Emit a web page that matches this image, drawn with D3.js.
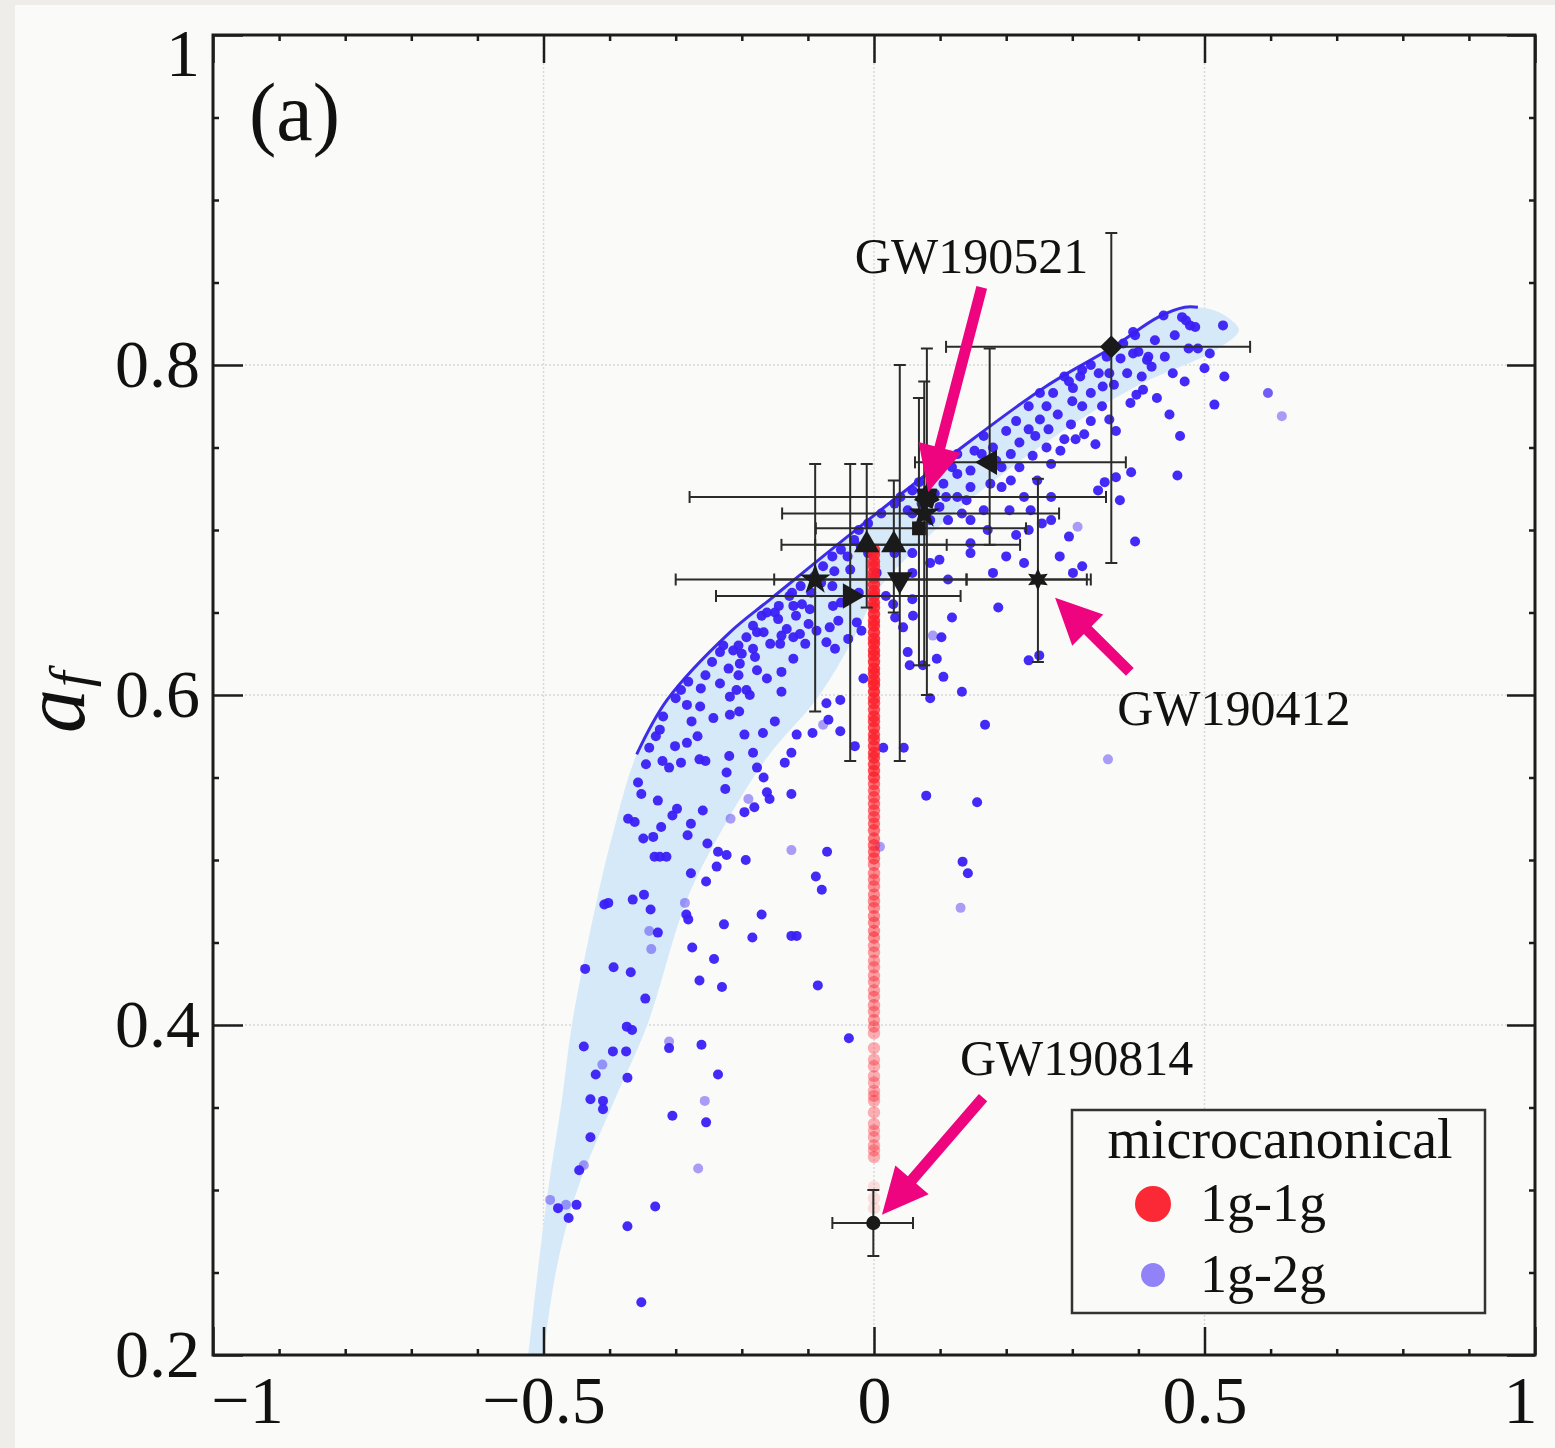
<!DOCTYPE html>
<html>
<head>
<meta charset="utf-8">
<script src="https://cdn.jsdelivr.net/npm/d3@7"></script>
<style>
  body { margin: 0; background: #eeede9; }
  svg { display: block; }
  text { font-family: "Liberation Serif", "DejaVu Serif", serif; fill: #111; }
</style>
</head>
<body>
<svg id="chart" width="1555" height="1448"></svg>
<script>
//--------DATA--------

const xTicks = [-1, -0.5, 0, 0.5, 1];
const xTickLabels = ['\u22121', '\u22120.5', '0', '0.5', '1'];
const yTicks = [0.2, 0.4, 0.6, 0.8, 1];
const yTickLabels = ['0.2', '0.4', '0.6', '0.8', '1'];
const xGrid = [-0.5, 0, 0.5];
const yGrid = [0.4, 0.6, 0.8];

// shaded band (upper edge, rounded end, lower edge)
const bandUpper = [[-0.526,0.190],[-0.523,0.200],[-0.508,0.253],[-0.493,0.300],[-0.472,0.355],[-0.457,0.400],
  [-0.419,0.476],[-0.395,0.516],[-0.359,0.564],[-0.313,0.597],[-0.218,0.638],[-0.157,0.658],[-0.009,0.706],
  [0.126,0.748],[0.260,0.787],[0.362,0.811],[0.430,0.829],[0.470,0.835],[0.490,0.835]];
const bandEnd = [[0.515,0.833],[0.538,0.828]];
const bandLower = [[0.552,0.821],[0.517,0.809],[0.396,0.787],[0.260,0.753],[0.126,0.712],[0.057,0.686],
  [0.007,0.664],[-0.030,0.635],[-0.086,0.598],[-0.162,0.562],[-0.233,0.516],[-0.283,0.476],[-0.343,0.400],
  [-0.392,0.355],[-0.449,0.300],[-0.480,0.253],[-0.500,0.200],[-0.503,0.190]];
const edgeStart = 0.564; // blue edge line drawn from here upward

// 1g-2g points: [chi_eff, a_f, weight]
const secondGen = [
  [-0.162,0.650,1],[-0.145,0.646,1],[-0.122,0.654,1],[-0.109,0.655,1],[-0.062,0.654,1],[-0.026,0.644,1],
  [-0.019,0.639,1],[-0.039,0.634,1],[-0.054,0.645,1],[-0.067,0.641,1],[-0.099,0.643,1],[-0.087,0.639,1],
  [-0.122,0.635,1],[-0.112,0.637,1],[-0.104,0.631,1],[-0.140,0.636,1],[-0.157,0.631,1],[-0.142,0.631,1],
  [-0.132,0.640,1],[-0.183,0.642,1],[-0.177,0.638,1],[-0.167,0.638,1],[-0.193,0.635,1],[-0.205,0.630,1],
  [-0.200,0.625,1],[-0.213,0.627,1],[-0.233,0.626,1],[-0.183,0.628,1],[-0.180,0.623,1],[-0.203,0.619,1],
  [-0.177,0.615,1],[-0.162,0.610,1],[-0.140,0.614,1],[-0.122,0.622,1],[-0.220,0.616,1],[-0.205,0.612,1],
  [-0.233,0.607,1],[-0.281,0.608,1],[-0.208,0.603,1],[-0.193,0.603,1],[-0.188,0.600,1],[-0.218,0.599,1],
  [-0.140,0.602,1],[-0.016,0.610,1],[-0.072,0.632,1],[-0.059,0.628,1],
  [0.032,0.647,1],[0.044,0.641,1],[0.051,0.626,1],[0.054,0.618,1],[0.074,0.618,1],[0.102,0.635,1],
  [0.118,0.647,1],[0.105,0.611,1],[0.095,0.622,1],[0.089,0.636,0.45],[0.059,0.648,1],[0.188,0.653,1],
  [0.029,0.655,1],[0.014,0.568,1],[0.045,0.568,1],[0.085,0.598,1],[0.133,0.602,1],[0.168,0.582,1],
  [0.079,0.539,1],[0.156,0.535,1],[0.134,0.499,1],[0.142,0.492,1],[0.131,0.471,0.45],[0.009,0.508,0.45],
  [0.234,0.621,1],[0.250,0.624,1],[0.354,0.561,0.45],
  [-0.283,0.594,1],[-0.263,0.593,1],[-0.319,0.587,1],[-0.324,0.579,1],[-0.243,0.586,1],[-0.218,0.588,1],
  [-0.204,0.590,1],[-0.276,0.584,1],[-0.150,0.584,1],[-0.196,0.576,1],[-0.168,0.577,1],[-0.267,0.575,1],
  [-0.283,0.571,1],[-0.301,0.569,1],[-0.117,0.576,1],[-0.093,0.577,1],[-0.072,0.595,1],[-0.051,0.597,1],
  [-0.069,0.585,1],[-0.077,0.582,0.45],[-0.051,0.578,1],[-0.029,0.569,1],[-0.357,0.547,1],[-0.310,0.556,1],
  [-0.292,0.559,1],[-0.264,0.561,1],[-0.255,0.560,1],[-0.219,0.563,1],[-0.183,0.565,1],[-0.177,0.556,1],
  [-0.167,0.550,1],[-0.125,0.565,1],[-0.135,0.559,1],[-0.223,0.553,1],[-0.225,0.543,1],[-0.162,0.541,1],
  [-0.158,0.537,1],[-0.190,0.537,0.45],[-0.125,0.540,1],[-0.327,0.536,1],[-0.298,0.531,1],[-0.305,0.527,1],
  [-0.259,0.530,1],[-0.277,0.522,1],[-0.322,0.520,1],[-0.372,0.525,1],[-0.362,0.523,1],[-0.349,0.513,1],
  [-0.334,0.514,1],[-0.282,0.515,1],[-0.252,0.510,1],[-0.236,0.505,1],[-0.223,0.503,1],[-0.217,0.525,0.45],
  [-0.196,0.529,1],[-0.181,0.532,1],[-0.332,0.502,1],[-0.324,0.502,1],[-0.314,0.502,1],[-0.277,0.492,1],
  [-0.254,0.487,1],[-0.238,0.496,1],[-0.194,0.500,1],[-0.125,0.506,0.45],[-0.071,0.505,1],[-0.088,0.490,1],
  [-0.079,0.482,1],[-0.348,0.479,1],[-0.365,0.476,1],[-0.338,0.470,1],[-0.408,0.473,1],[-0.402,0.474,1],
  [-0.286,0.474,0.45],[-0.284,0.467,1],[-0.281,0.464,1],[-0.340,0.457,0.45],[-0.327,0.456,1],[-0.337,0.446,0.45],
  [-0.227,0.461,1],[-0.170,0.467,1],[-0.184,0.453,1],[-0.125,0.454,1],[-0.117,0.454,1],[-0.275,0.447,1],
  [-0.242,0.440,1],[-0.264,0.427,1],[-0.230,0.423,1],[-0.085,0.424,1],[-0.437,0.434,1],[-0.394,0.435,1],
  [-0.368,0.432,1],[-0.346,0.416,1],[-0.374,0.399,1],[-0.366,0.397,1],[-0.038,0.392,1],[-0.439,0.387,1],
  [-0.395,0.384,1],[-0.375,0.384,1],[-0.310,0.390,0.45],[-0.310,0.386,1],[-0.261,0.388,1],[-0.411,0.376,0.45],
  [-0.421,0.370,1],[-0.373,0.368,1],[-0.236,0.370,1],[-0.429,0.355,1],[-0.410,0.354,1],[-0.410,0.349,1],
  [-0.256,0.354,0.45],[-0.305,0.345,1],[-0.254,0.341,1],[-0.429,0.332,1],[-0.439,0.315,0.45],[-0.446,0.312,1],
  [-0.266,0.313,0.45],[-0.490,0.294,0.45],[-0.478,0.289,1],[-0.466,0.291,0.45],[-0.450,0.291,1],[-0.462,0.283,1],
  [-0.331,0.290,1],[-0.373,0.278,1],[-0.352,0.232,1],
  [0.438,0.830,1],[0.466,0.829,1],[0.472,0.827,1],[0.478,0.824,1],[0.486,0.823,1],[0.528,0.824,1],
  [0.392,0.820,1],[0.395,0.818,1],[0.377,0.813,1],[0.476,0.810,1],[0.508,0.807,1],[0.392,0.807,1],
  [0.373,0.804,1],[0.415,0.805,1],[0.413,0.803,1],[0.420,0.799,1],[0.352,0.805,1],[0.405,0.793,1],
  [0.530,0.793,1],[0.407,0.785,1],[0.397,0.782,1],[0.428,0.780,1],[0.388,0.777,1],[0.346,0.787,1],
  [0.363,0.788,1],[0.596,0.783,0.75],[0.515,0.776,1],[0.617,0.769,0.45],[0.447,0.770,1],[0.356,0.767,1],
  [0.366,0.760,1],[0.463,0.757,1],[0.389,0.735,1],[0.459,0.733,1],[0.366,0.732,1],[0.349,0.729,1],
  [0.372,0.718,1],[0.395,0.693,1],[0.339,0.724,1],
  [0.288,0.793,1],[0.315,0.797,1],[0.328,0.800,1],[0.312,0.793,1],[0.295,0.790,1],[0.301,0.786,1],
  [0.328,0.783,1],[0.271,0.783,1],[0.315,0.775,1],[0.328,0.766,1],[0.298,0.764,1],[0.305,0.755,1],
  [0.288,0.755,1],[0.251,0.783,1],[0.234,0.775,1],[0.261,0.775,1],[0.251,0.767,1],[0.264,0.761,1],
  [0.244,0.757,1],[0.261,0.750,1],[0.268,0.740,1],[0.234,0.761,1],[0.220,0.753,1],[0.207,0.746,1],
  [0.220,0.738,1],[0.193,0.738,1],[0.180,0.750,1],[0.166,0.757,1],[0.163,0.746,1],[0.146,0.736,1],
  [0.126,0.746,1],[0.146,0.726,1],[0.126,0.734,1],[0.105,0.728,1],[0.092,0.722,1],[0.068,0.729,1],
  [0.058,0.724,1],[0.099,0.714,1],[0.085,0.706,1],[0.072,0.716,1],[0.058,0.710,1],[0.051,0.712,1],
  [0.109,0.720,1],[0.126,0.720,1],[0.133,0.710,1],[0.146,0.706,1],[0.166,0.712,1],[0.193,0.726,1],
  [0.207,0.730,1],[0.247,0.730,1],[0.227,0.720,1],[0.237,0.712,1],[0.268,0.720,1],[0.234,0.700,1],
  [0.254,0.704,1],[0.295,0.696,1],[0.301,0.674,1],[0.315,0.678,1],[0.308,0.702,0.45],[0.281,0.684,1],
  [0.268,0.706,1],[0.227,0.680,1],[0.200,0.684,1],[0.180,0.674,1],[0.146,0.692,1],[0.146,0.686,1],
  [0.112,0.670,1],[0.099,0.682,1],[0.085,0.680,1],[0.058,0.686,1],[0.058,0.674,1],[0.058,0.658,1],
  [0.031,0.686,1],[0.040,0.720,1],[0.031,0.716,1],[0.011,0.710,1],[-0.009,0.704,1],[-0.023,0.700,1],
  [-0.030,0.694,1],[-0.050,0.688,1],[-0.063,0.684,1],[-0.077,0.678,1],[-0.090,0.672,1],[-0.111,0.666,1],
  [-0.124,0.662,1],[-0.144,0.654,1],[-0.009,0.686,1],[-0.036,0.676,1],[-0.063,0.666,1],[0.004,0.674,1],
  [0.018,0.660,1],[-0.050,0.656,1],[-0.023,0.662,1],[-0.097,0.652,1],
  [0.200,0.760,1],[0.185,0.742,1],[0.215,0.766,1],[0.240,0.745,1],[0.278,0.770,1],[0.282,0.748,1],
  [0.300,0.778,1],[0.318,0.758,1],[0.340,0.795,1],[0.345,0.775,1],[0.335,0.752,1],[0.356,0.795,1],
  [0.383,0.795,1],[0.400,0.808,1],[0.425,0.815,1],[0.440,0.805,1],[0.455,0.818,1],[0.452,0.795,1],
  [0.470,0.790,1],[0.490,0.810,1],[0.500,0.798,1],[0.152,0.748,1],[0.140,0.718,1],[0.118,0.738,1],
  [0.090,0.735,1],[0.112,0.706,1],[0.176,0.728,1],[0.172,0.700,1],[0.205,0.712,1],[0.215,0.697,1],
  [-0.300,0.598,1],[-0.292,0.603,1],[-0.255,0.612,1],[-0.245,0.620,1],[-0.262,0.604,1],[-0.228,0.630,1],
  [-0.170,0.648,1],[-0.150,0.650,1],[-0.128,0.660,1],[-0.118,0.648,1],[-0.095,0.662,1],[-0.080,0.668,1],
  [-0.060,0.675,1],[-0.040,0.684,1],[-0.020,0.690,1],[-0.340,0.568,1],[-0.330,0.575,1],[-0.345,0.558,1],
  [-0.352,0.540,1],[-0.320,0.560,1]
];

// 1g-1g points (chi_eff = 0): [a_f, weight]
const firstGen = [
  [0.688,0.85],[0.685,0.85],[0.681,0.85],[0.678,0.85],[0.674,0.85],[0.671,0.85],[0.667,0.85],[0.663,0.85],
  [0.660,0.85],[0.656,0.85],[0.653,0.85],[0.649,0.85],[0.645,0.85],[0.642,0.85],[0.638,0.85],[0.634,0.85],
  [0.631,0.85],[0.627,0.85],[0.624,0.85],[0.620,0.85],[0.616,0.85],[0.613,0.85],[0.609,0.85],[0.606,0.85],
  [0.602,0.85],[0.598,0.75],[0.595,0.75],[0.591,0.75],[0.587,0.75],[0.584,0.75],[0.580,0.75],[0.576,0.75],
  [0.573,0.75],[0.569,0.75],[0.565,0.75],[0.562,0.75],[0.558,0.75],[0.554,0.75],[0.550,0.75],
  [0.546,0.62],[0.542,0.62],[0.538,0.62],[0.534,0.62],[0.530,0.62],[0.526,0.62],[0.522,0.62],[0.518,0.62],
  [0.513,0.62],[0.509,0.62],[0.505,0.62],[0.501,0.62],
  [0.497,0.5],[0.492,0.5],[0.488,0.5],[0.484,0.5],[0.479,0.5],[0.475,0.5],[0.471,0.5],[0.466,0.5],
  [0.462,0.5],[0.457,0.5],[0.453,0.5],
  [0.448,0.42],[0.444,0.42],[0.439,0.42],[0.435,0.42],[0.430,0.42],[0.426,0.42],[0.421,0.42],[0.417,0.42],
  [0.412,0.42],[0.408,0.42],[0.403,0.42],[0.399,0.42],
  [0.395,0.35],[0.386,0.35],[0.379,0.35],[0.375,0.35],[0.369,0.35],[0.365,0.35],[0.360,0.35],[0.357,0.35],
  [0.354,0.35],[0.347,0.35],[0.340,0.35],[0.336,0.35],[0.332,0.35],[0.327,0.35],[0.324,0.35],[0.320,0.35],
  [0.302,0.13],[0.295,0.13],[0.289,0.13]
];

// observed events with 90% intervals
const events = [
  {name:'e1', shape:'diamond',  x:0.359,  y:0.811, xlo:0.109,  xhi:0.569, ylo:0.680, yhi:0.880},
  {name:'e2', shape:'triLeft',  x:0.175,  y:0.741, xlo:0.062,  xhi:0.381, ylo:0.691, yhi:0.810},
  {name:'GW190521', shape:'hepta', x:0.080, y:0.720, xlo:-0.279, xhi:0.351, ylo:0.600, yhi:0.810},
  {name:'e4', shape:'star5',    x:0.076,  y:0.710, xlo:-0.139, xhi:0.280, ylo:0.618, yhi:0.790},
  {name:'e5', shape:'square',   x:0.068,  y:0.701, xlo:-0.088, xhi:0.230, ylo:0.618, yhi:0.780},
  {name:'e6', shape:'triUp',    x:-0.011, y:0.691, xlo:-0.140, xhi:0.110, ylo:0.653, yhi:0.740},
  {name:'e7', shape:'triUp',    x:0.030,  y:0.691, xlo:-0.089, xhi:0.221, ylo:0.650, yhi:0.730},
  {name:'e8', shape:'star5',    x:-0.089, y:0.670, xlo:-0.300, xhi:0.140, ylo:0.590, yhi:0.740},
  {name:'e9', shape:'triDown',  x:0.039,  y:0.670, xlo:-0.151, xhi:0.328, ylo:0.560, yhi:0.800},
  {name:'GW190412', shape:'star6', x:0.248, y:0.670, xlo:0.140, xhi:0.322, ylo:0.620, yhi:0.731},
  {name:'e11', shape:'triRight', x:-0.036, y:0.660, xlo:-0.239, xhi:0.131, ylo:0.560, yhi:0.740},
  {name:'GW190814', shape:'circle', x:-0.001, y:0.280, xlo:-0.063, xhi:0.059, ylo:0.260, yhi:0.300}
];

const callouts = [
  {label:'GW190521', tx:-0.029, ty:0.856, from:[0.163,0.847], to:[0.082,0.723]},
  {label:'GW190412', tx:0.368,  ty:0.582, from:[0.387,0.614], to:[0.274,0.659]},
  {label:'GW190814', tx:0.130,  ty:0.370, from:[0.165,0.356], to:[0.012,0.285]}
];

const legendTitle = 'microcanonical';
const seriesNames = ['1g-1g', '1g-2g'];

//--------SETUP--------

const svg = d3.select('#chart');
const x = d3.scaleLinear().domain([-1, 1]).range([213, 1535]);
const y = d3.scaleLinear().domain([0.2, 1]).range([1355, 35]);
const ink = '#1c1c1c';

svg.append('rect')
    .attr('x', 15).attr('y', 5)
    .attr('width', 1540).attr('height', 1443)
    .attr('fill', '#fafaf9');

svg.append('clipPath').attr('id', 'plotClip')
    .append('rect')
    .attr('x', x(-1)).attr('y', y(1))
    .attr('width', x(1) - x(-1)).attr('height', y(0.2) - y(1));

//grid
let grid = svg.append('g')
    .attr('stroke', '#d9d9d9')
    .attr('stroke-width', 1.5)
    .attr('stroke-dasharray', '2,2');

grid.selectAll('line.gx').data(xGrid).join('line')
    .attr('class', 'gx')
    .attr('x1', d => x(d)).attr('x2', d => x(d))
    .attr('y1', y(1)).attr('y2', y(0.2));

grid.selectAll('line.gy').data(yGrid).join('line')
    .attr('class', 'gy')
    .attr('x1', x(-1)).attr('x2', x(1))
    .attr('y1', d => y(d)).attr('y2', d => y(d));

let plot = svg.append('g').attr('clip-path', 'url(#plotClip)');

//band + edge line
let curve = d3.line()
    .x(d => x(d[0]))
    .y(d => y(d[1]))
    .curve(d3.curveCatmullRom.alpha(0.5));

plot.append('path')
    .attr('d', curve(bandUpper.concat(bandEnd, bandLower)) + 'Z')
    .attr('fill', '#d5e9f9');

plot.append('path')
    .attr('d', curve(bandUpper.filter(d => d[1] >= edgeStart)))
    .attr('fill', 'none')
    .attr('stroke', '#3d2ce8')
    .attr('stroke-width', 3);

//scatter
let alpha = d3.scaleLinear().domain([0, 1]).range([0, 0.95]);

plot.selectAll('circle.g2').data(secondGen).join('circle')
    .attr('class', 'g2')
    .attr('cx', d => x(d[0]))
    .attr('cy', d => y(d[1]))
    .attr('r', 5)
    .attr('fill', '#3a1ff6')
    .attr('fill-opacity', d => alpha(d[2]));

plot.selectAll('circle.g1').data(firstGen).join('circle')
    .attr('class', 'g1')
    .attr('cx', x(0))
    .attr('cy', d => y(d[0]))
    .attr('r', 6.2)
    .attr('fill', '#fb1e2a')
    .attr('fill-opacity', d => d[1]);

//error bars
function starType(n, inner){
    return {
        draw(ctx, size){
            let r = Math.sqrt(size / Math.PI) * 1.3;
            for(let i = 0; i < 2 * n; i++){
                let a = Math.PI * i / n - Math.PI / 2;
                let rr = i % 2 ? r * inner : r;
                if(i === 0) ctx.moveTo(rr * Math.cos(a), rr * Math.sin(a));
                else ctx.lineTo(rr * Math.cos(a), rr * Math.sin(a));
            }
            ctx.closePath();
        }
    };
}

const shapes = {
    diamond:  {type: d3.symbolSquare, size: 260, rot: 45},
    square:   {type: d3.symbolSquare, size: 190, rot: 0},
    triUp:    {type: d3.symbolTriangle, size: 280, rot: 0},
    triDown:  {type: d3.symbolTriangle, size: 280, rot: 180},
    triLeft:  {type: d3.symbolTriangle, size: 280, rot: -90},
    triRight: {type: d3.symbolTriangle, size: 280, rot: 90},
    star5:    {type: d3.symbolStar, size: 300, rot: 0},
    star6:    {type: starType(6, 0.5), size: 240, rot: 0},
    hepta:    {type: starType(7, 0.72), size: 320, rot: 0},
    circle:   {type: d3.symbolCircle, size: 160, rot: 0}
};

let cap = 6;
let bars = svg.append('g')
    .attr('stroke', '#2b2b2b')
    .attr('stroke-width', 2);

events.forEach(ev => {
    let g = bars.append('g');
    g.append('line')
        .attr('x1', x(ev.xlo)).attr('x2', x(ev.xhi))
        .attr('y1', y(ev.y)).attr('y2', y(ev.y));
    g.append('line')
        .attr('x1', x(ev.x)).attr('x2', x(ev.x))
        .attr('y1', y(ev.ylo)).attr('y2', y(ev.yhi));
    [ev.xlo, ev.xhi].forEach(v => g.append('line')
        .attr('x1', x(v)).attr('x2', x(v))
        .attr('y1', y(ev.y) - cap).attr('y2', y(ev.y) + cap));
    [ev.ylo, ev.yhi].forEach(v => g.append('line')
        .attr('x1', x(ev.x) - cap).attr('x2', x(ev.x) + cap)
        .attr('y1', y(v)).attr('y2', y(v)));
});

svg.append('g').selectAll('path').data(events).join('path')
    .attr('d', d => d3.symbol().type(shapes[d.shape].type).size(shapes[d.shape].size)())
    .attr('transform', d => `translate(${x(d.x)}, ${y(d.y)}) rotate(${shapes[d.shape].rot})`)
    .attr('fill', '#1a1a1a');

//callout arrows + labels
function arrowPath(p0, p1){
    let dx = p1[0] - p0[0], dy = p1[1] - p0[1];
    let len = Math.hypot(dx, dy);
    let ux = dx / len, uy = dy / len, nx = -uy, ny = ux;
    let head = 46, half = 22, w = 5.5;
    let bx = p1[0] - ux * head, by = p1[1] - uy * head;
    let pts = [
        [p0[0] + nx * w, p0[1] + ny * w],
        [bx + nx * w, by + ny * w],
        [bx + nx * half, by + ny * half],
        p1,
        [bx - nx * half, by - ny * half],
        [bx - nx * w, by - ny * w],
        [p0[0] - nx * w, p0[1] - ny * w]
    ];
    return 'M' + pts.map(p => p.join(',')).join('L') + 'Z';
}

let notes = svg.append('g');
notes.selectAll('path').data(callouts).join('path')
    .attr('d', d => arrowPath([x(d.from[0]), y(d.from[1])], [x(d.to[0]), y(d.to[1])]))
    .attr('fill', '#ef047f');

notes.selectAll('text').data(callouts).join('text')
    .attr('x', d => x(d.tx))
    .attr('y', d => y(d.ty))
    .style('font-size', '50px')
    .text(d => d.label);

//axes: ticks on all four sides, pointing in
function tickRow(axisFn, scale, values, len, transform){
    let g = svg.append('g')
        .attr('transform', transform)
        .call(axisFn(scale).tickValues(values).tickSize(-len).tickFormat(''));
    g.select('.domain').remove();
    g.selectAll('line').attr('stroke', ink).attr('stroke-width', 2.5);
}

let xMinor = x.ticks(20).filter(v => !xTicks.some(t => Math.abs(t - v) < 1e-9));
let yMinor = y.ticks(16).filter(v => !yTicks.some(t => Math.abs(t - v) < 1e-9));

tickRow(d3.axisBottom, x, xTicks, 28, `translate(0, ${y(0.2)})`);
tickRow(d3.axisBottom, x, xMinor, 6, `translate(0, ${y(0.2)})`);
tickRow(d3.axisTop, x, xTicks, 28, `translate(0, ${y(1)})`);
tickRow(d3.axisTop, x, xMinor, 6, `translate(0, ${y(1)})`);
tickRow(d3.axisLeft, y, yTicks, 30, `translate(${x(-1)}, 0)`);
tickRow(d3.axisLeft, y, yMinor, 6, `translate(${x(-1)}, 0)`);
tickRow(d3.axisRight, y, yTicks, 28, `translate(${x(1)}, 0)`);
tickRow(d3.axisRight, y, yMinor, 6, `translate(${x(1)}, 0)`);

//tick labels
let axisX = svg.append('g')
    .attr('transform', `translate(0, ${y(0.2)})`)
    .call(d3.axisBottom(x).tickValues(xTicks).tickSize(0).tickPadding(20)
        .tickFormat((d, i) => xTickLabels[i]));
axisX.select('.domain').remove();
axisX.selectAll('text')
    .style('font-family', '"Liberation Serif", serif')
    .style('font-size', '68px')
    .attr('fill', '#111')
    .attr('dx', (d, i) => i === 0 ? 34 : (i === xTicks.length - 1 ? -15 : 0));

let axisY = svg.append('g')
    .attr('transform', `translate(${x(-1)}, 0)`)
    .call(d3.axisLeft(y).tickValues(yTicks).tickSize(0).tickPadding(13)
        .tickFormat((d, i) => yTickLabels[i]));
axisY.select('.domain').remove();
axisY.selectAll('text')
    .style('font-family', '"Liberation Serif", serif')
    .style('font-size', '68px')
    .attr('fill', '#111')
    .attr('y', d => d === 1 ? 19 : 0);

//frame
svg.append('rect')
    .attr('x', x(-1)).attr('y', y(1))
    .attr('width', x(1) - x(-1)).attr('height', y(0.2) - y(1))
    .attr('fill', 'none')
    .attr('stroke', ink)
    .attr('stroke-width', 3);

//axis title a_f
let yTitle = svg.append('text')
    .attr('transform', `translate(84, ${y(0.577)}) rotate(-90)`)
    .style('font-style', 'italic');
yTitle.append('tspan').style('font-size', '88px').text('a');
yTitle.append('tspan').style('font-size', '56px').attr('dy', 5).attr('dx', 2).text('f');

//panel tag
svg.append('text')
    .attr('x', 249)
    .attr('y', 140)
    .style('font-size', '82px')
    .text('(a)');

//legend
let legend = svg.append('g').attr('transform', 'translate(1072, 1110)');
legend.append('rect')
    .attr('width', 413).attr('height', 203)
    .attr('fill', '#fafaf9')
    .attr('stroke', '#333')
    .attr('stroke-width', 2.5);
legend.append('text')
    .attr('x', 208).attr('y', 48)
    .style('text-anchor', 'middle')
    .style('font-size', '56px')
    .text(legendTitle);

let entries = legend.selectAll('g.entry').data(seriesNames).join('g')
    .attr('class', 'entry')
    .attr('transform', (d, i) => `translate(81, ${94 + i * 71})`);
entries.append('circle')
    .attr('r', (d, i) => i === 0 ? 18 : 12)
    .attr('fill', (d, i) => i === 0 ? '#fb1e2a' : '#3a1ff6')
    .attr('fill-opacity', (d, i) => i === 0 ? 0.95 : 0.55);
entries.append('text')
    .attr('x', 47).attr('y', 17)
    .style('font-size', '54px')
    .text(d => d);
</script>
</body>
</html>
